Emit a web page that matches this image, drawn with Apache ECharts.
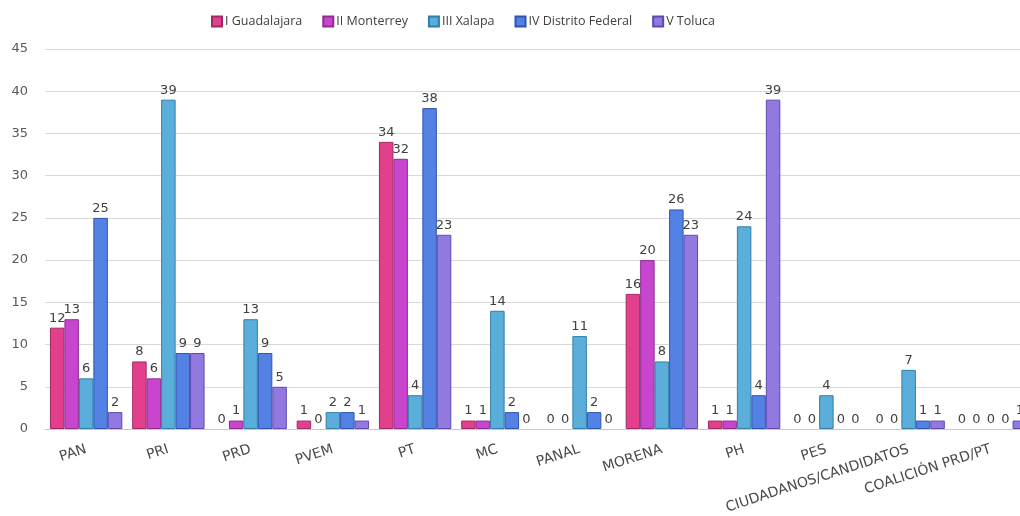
<!DOCTYPE html>
<html><head><meta charset="utf-8">
<script src="https://cdn.jsdelivr.net/npm/echarts@6/dist/echarts.min.js"></script>
<style>html,body{margin:0;padding:0;background:#fff}#c{width:1020px;height:516px}</style>
</head><body><div id="c"></div>
<script>
const categories = ['PAN','PRI','PRD','PVEM','PT','MC','PANAL','MORENA','PH','PES','CIUDADANOS/CANDIDATOS','COALICIÓN PRD/PT'];
const seriesNames = ['I Guadalajara','II Monterrey','III Xalapa','IV Distrito Federal','V Toluca'];
const guadalajara = [12,8,0,1,34,1,0,16,1,0,0,0];
const monterrey   = [13,6,1,0,32,1,0,20,1,0,0,0];
const xalapa      = [6,39,13,2,4,14,11,8,24,4,7,0];
const distrito    = [25,9,9,2,38,2,2,26,4,0,1,0];
const toluca      = [2,9,5,1,23,0,0,23,39,0,1,1];
const yTicks = [0,5,10,15,20,25,30,35,40,45];

const colors = ['#E2408C','#C845CE','#5BADDA','#5482E4','#9179E0'];
const borders = ['#A02A62','#8E2C92','#2F7FA8','#2D55B0','#5F49B0'];
const data = [guadalajara, monterrey, xalapa, distrito, toluca];

const chart = echarts.init(document.getElementById('c'));
chart.setOption({
  animation:false,
  legend:{top:10,left:206,itemWidth:10,itemHeight:10,itemGap:20,icon:'rect',
    textStyle:{fontFamily:'Open Sans',fontSize:12.5,color:'#404040',padding:[0,0,0,-2]},data:seriesNames},
  grid:{left:45,width:987,top:49,bottom:87,containLabel:false,outerBoundsMode:'none'},
  xAxis:{type:'category',data:categories,
    axisLine:{lineStyle:{color:'#c8c8c8'}},axisTick:{show:false},
    axisLabel:{interval:0,rotate:18,fontFamily:'DejaVu Sans',fontSize:14,color:'#4a4a4a',margin:20}},
  yAxis:{type:'value',min:0,max:45,interval:5,
    axisLine:{show:false},axisTick:{show:false},
    axisLabel:{fontFamily:'DejaVu Sans',fontSize:13,color:'#595959',margin:17,
      formatter:v=>yTicks.includes(v)?String(v):''},
    splitLine:{lineStyle:{color:'#d9d9d9',width:1}}},
  series: seriesNames.map((n,i)=>({
    name:n,type:'bar',
    data:data[i].map(v=>v===0?{value:0,itemStyle:{borderWidth:0}}:v),
    barGap:'0%',barCategoryGap:'12%',
    itemStyle:{color:colors[i],borderColor:borders[i],borderWidth:1},
    label:{show:true,position:'top',distance:3,fontFamily:'DejaVu Sans',fontSize:13,color:'#404040'}
  }))
});
</script></body></html>
